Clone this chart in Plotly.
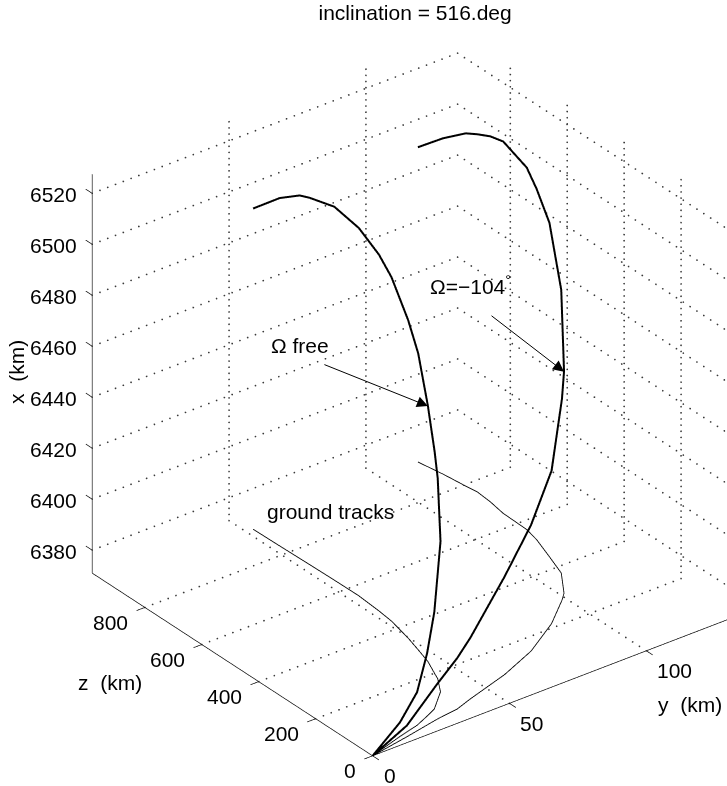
import math
import numpy as np
import plotly.graph_objects as go

# ---------------- axis limits and ticks (km) ----------------
Y_LIM = (0.0, 133.5)      # cross-range y
Z_LIM = (0.0, 985.0)      # down-range z
X_LIM = (6371.0, 6527.5)  # radial x

X_TICKS = [6380, 6400, 6420, 6440, 6460, 6480, 6500, 6520]
Z_TICKS = [0, 200, 400, 600, 800]
Y_TICKS = [0, 50, 100]

R_GROUND = 6371.0  # radius used for the ground tracks

# ---------------- trajectory, ascending node free ----------------
free_z = [0, 30, 45.7, 63.5, 78.4, 128.7, 177, 198.3, 248, 300.3, 352.6,
          432.6, 483.6, 560.7, 646, 731.3, 764.8, 833, 924.7]
free_y = [0, 13.1, 21.0, 26.5, 30.7, 38.2, 42.2, 43.3, 46.0, 47.9, 49.7,
          51.9, 52.6, 53.3, 53.2, 53.0, 52.9, 52.7, 52.5]
free_x = [6371, 6376.5, 6384, 6395.6, 6409, 6430, 6449.6, 6458, 6471.3, 6487.3,
          6495.7, 6505.9, 6510.8, 6515.3, 6517.5, 6514.9, 6513.4, 6507.5, 6496.8]

# ---------------- trajectory, ascending node at -104 deg ----------------
fix_z = [0, 20, 40.3, 48.7, 66, 104, 149, 215.5, 281, 302.5, 374.7, 445,
         519.9, 567, 652.7, 708.4, 758, 794, 864.8, 938]
fix_y = [0, 14.6, 27.8, 36.0, 42.6, 59.1, 73.4, 87.8, 98.4, 101.4, 107.9,
         110.9, 114.0, 115.3, 115.6, 116.7, 117.2, 116.6, 115.6, 114.1]
fix_x = [6371, 6375.4, 6384.8, 6391, 6395, 6409.5, 6420.5, 6431, 6450, 6458,
         6482, 6502, 6508.6, 6513, 6516.9, 6514.4, 6511.4, 6509.4, 6502.7, 6494.5]

FONT = "Liberation Sans, Arial, Helvetica, sans-serif"
FS = 21
TICK = 0.023   # tick length as a fraction of the axis span
ZOOM = 1.181   # box size in the orthographic view

y0, y1 = Y_LIM
z0, z1 = Z_LIM
x0, x1 = X_LIM
ty = TICK * (y1 - y0)
tz = TICK * (z1 - z0)

# scene ranges are padded so that outward ticks and the floor are not clipped
rng_y = (y0 - ty, y1)
rng_z = (z0 - tz, z1 + tz)
rng_x = (x0 - 1.5, x1 + 1.5)


def polyline(pieces):
    """Join (ys, zs, xs) pieces into one trace-ready list with gaps."""
    ay, az, ax = [], [], []
    for ys, zs, xs in pieces:
        ay += list(ys) + [None]
        az += list(zs) + [None]
        ax += list(xs) + [None]
    return ay, az, ax


def line3d(ys, zs, xs, width=1.0, color="black"):
    return go.Scatter3d(x=ys, y=zs, z=xs, mode="lines",
                        line=dict(color=color, width=width),
                        hoverinfo="skip", showlegend=False)


fig = go.Figure()

# dotted grid on the two back walls and the floor
dots = [[], [], []]


def add_dots(a, b, n):
    t = np.linspace(0.0, 1.0, n)
    for i in range(3):
        dots[i] += list(a[i] + (b[i] - a[i]) * t)


for t in X_TICKS:
    add_dots((y0, z1, t), (y1, z1, t), 48)
    add_dots((y1, z1, t), (y1, z0, t), 42)
for t in Y_TICKS[1:]:
    add_dots((t, z0, x0), (t, z1, x0), 42)
    add_dots((t, z1, x0), (t, z1, x1), 66)
for t in Z_TICKS[1:]:
    add_dots((y0, t, x0), (y1, t, x0), 48)
    add_dots((y1, t, x0), (y1, t, x1), 66)
fig.add_trace(go.Scatter3d(x=dots[0], y=dots[1], z=dots[2], mode="markers",
                           marker=dict(size=1.0, color="#3a3a3a", line=dict(width=0)),
                           hoverinfo="skip", showlegend=False))

# axis lines and tick marks
axes = [
    ([y0, y0], [z1, z1], [x0, x1]),   # x axis (vertical, back-left edge)
    ([y0, y0], [z0, z1], [x0, x0]),   # z axis
    ([y0, y1], [z0, z0], [x0, x0]),   # y axis
]
for t in X_TICKS:
    axes.append(([y0, y0], [z1, z1 + tz], [t, t]))
for t in Z_TICKS:
    axes.append(([y0, y0 - ty], [t, t], [x0, x0]))
for t in Y_TICKS:
    axes.append(([t, t], [z0, z0 - tz], [x0, x0]))
ay_, az_, ax_ = polyline(axes)
fig.add_trace(line3d(ay_, az_, ax_, width=1.4))

# ground tracks
fig.add_trace(line3d(free_y, free_z, [R_GROUND] * len(free_z), width=1.7))
fig.add_trace(line3d(fix_y, fix_z, [R_GROUND] * len(fix_z), width=1.7))

# trajectories
fig.add_trace(line3d(free_y, free_z, free_x, width=4))
fig.add_trace(line3d(fix_y, fix_z, fix_x, width=4))

font = dict(family=FONT, size=FS, color="black")
ann = []
for t in X_TICKS:
    ann.append(dict(x=y0, y=z1, z=t, text=str(t), showarrow=False,
                    xanchor="right", yanchor="middle", xshift=-13, yshift=-1,
                    font=font))
for t in Z_TICKS:
    ann.append(dict(x=y0, y=t, z=x0, text=str(t), showarrow=False,
                    xanchor="right", yanchor="middle", xshift=-15, yshift=-15,
                    font=font))
for t in Y_TICKS:
    ann.append(dict(x=t, y=z0, z=x0, text=str(t), showarrow=False,
                    xanchor="left", yanchor="middle", xshift=9, yshift=-20,
                    font=font))
ann.append(dict(x=y0, y=z1, z=(x0 + x1) / 2, text="x\u00a0\u00a0(km)",
                showarrow=False, textangle=-90, xshift=-75, yshift=2, font=font))
ann.append(dict(x=y0, y=(z0 + z1) / 2, z=x0, text="z\u00a0\u00a0(km)",
                showarrow=False, xshift=-122, yshift=-18, font=font))
ann.append(dict(x=(y0 + y1) / 2, y=z0, z=x0, text="y\u00a0\u00a0(km)",
                showarrow=False, xshift=135, yshift=-19, font=font))

# labels and arrows pointing at the trajectories
i_free = free_z.index(248)
i_fix = fix_z.index(302.5)
pf = dict(x=free_y[i_free], y=free_z[i_free], z=free_x[i_free])
pc = dict(x=fix_y[i_fix], y=fix_z[i_fix], z=fix_x[i_fix])
arrow = dict(showarrow=True, arrowhead=2, arrowsize=2.2, arrowwidth=1,
             arrowcolor="black", text="")
ann.append(dict(**pf, ax=-105, ay=-42, **arrow))
ann.append(dict(**pc, ax=-74, ay=-57, **arrow))
ann.append(dict(**pf, text="\u03a9 free", showarrow=False,
                xshift=-128, yshift=61, font=font))
ann.append(dict(**pc, text="\u03a9=\u2212104<sup>\u00b0</sup>", showarrow=False,
                xshift=-94, yshift=87, font=font))
ann.append(dict(x=free_y[-1], y=free_z[-1], z=R_GROUND, text="ground tracks",
                showarrow=False, xshift=77, yshift=18, font=font))

# camera: azimuth -37.5 deg, elevation 30 deg, orthographic
az, el = math.radians(-37.5), math.radians(30.0)
view = np.array([math.cos(el) * math.sin(az),
                 -math.cos(el) * math.cos(az),
                 math.sin(el)])
center = np.array([-0.0960, 0.0745, 0.0012])
eye = center + 2.5 * view

hidden = dict(showgrid=False, showline=False, zeroline=False,
              showticklabels=False, showbackground=False, showspikes=False,
              ticks="", title=dict(text=""))

fig.update_layout(
    width=727, height=786,
    margin=dict(l=0, r=0, t=0, b=0),
    paper_bgcolor="white", plot_bgcolor="white",
    showlegend=False, hovermode=False,
    title=dict(text="inclination = 516.deg", x=0.571, xanchor="center",
               y=1 - 13 / 786, yanchor="middle",
               font=dict(family=FONT, size=FS, color="black")),
    scene=dict(
        domain=dict(x=[0.0, 1.0], y=[0.0, 0.992]),
        xaxis=dict(range=list(rng_y), **hidden),
        yaxis=dict(range=list(rng_z), **hidden),
        zaxis=dict(range=list(rng_x), **hidden),
        aspectmode="manual",
        aspectratio=dict(x=ZOOM * (rng_y[1] - rng_y[0]) / (y1 - y0),
                         y=ZOOM * (rng_z[1] - rng_z[0]) / (z1 - z0),
                         z=ZOOM * (rng_x[1] - rng_x[0]) / (x1 - x0)),
        camera=dict(eye=dict(x=eye[0], y=eye[1], z=eye[2]),
                    up=dict(x=0, y=0, z=1),
                    center=dict(x=center[0], y=center[1], z=center[2]),
                    projection=dict(type="orthographic")),
        dragmode=False,
        annotations=ann,
    ),
)

fig.write_html("out.html", config={"displayModeBar": False})
